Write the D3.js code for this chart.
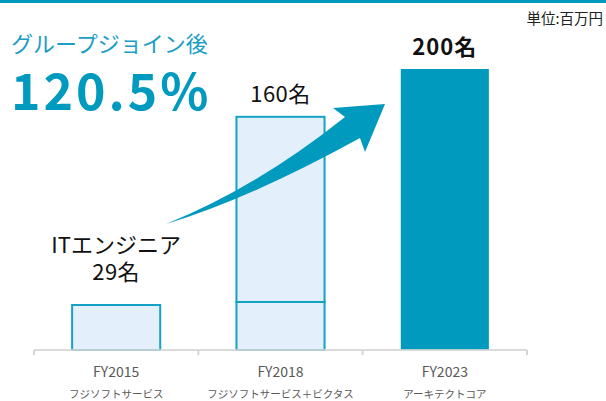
<!DOCTYPE html>
<html>
<head>
<meta charset="utf-8">
<script src="https://cdn.jsdelivr.net/npm/d3@7"></script>
<style>
  body { margin: 0; background: #fff; }
  svg text { font-family: "Noto Sans CJK JP", "Noto Sans", sans-serif; }
</style>
</head>
<body>
<div id="chart"></div>
<script>
// data (sales in 百万円)
const categories = ["FY2015", "FY2018", "FY2023"];
const companies = ["フジソフトサービス", "フジソフトサービス＋ビクタス", "アーキテクトコア"];
const baseSales = [193, 206, 1205];
const addedSales = [0, 794, 0];
const headcount = ["29名", "160名", "200名"];

const teal = "#009abf";
const lightFill = "#e3f0fb";

const width = 606, height = 401;
const margin = { left: 34, right: 79, top: 69, bottom: 51 };

const svg = d3.select("#chart")
  .append("svg")
  .attr("width", width)
  .attr("height", height);

// top rule
svg.append("rect")
  .attr("x", 0).attr("y", 0)
  .attr("width", width).attr("height", 3)
  .attr("fill", teal);

const x = d3.scaleBand()
  .domain(categories)
  .range([margin.left, width - margin.right])
  .paddingInner(0.464)
  .paddingOuter(0.232);

// band edges for the axis ticks
const xEdge = d3.scaleBand()
  .domain(categories)
  .range([margin.left, width - margin.right]);

const y = d3.scaleLinear()
  .domain([0, d3.max(categories, (d, i) => baseSales[i] + addedSales[i])])
  .range([height - margin.bottom, margin.top]);

const rows = categories.map((c, i) => ({
  cat: c, base: baseSales[i], added: addedSales[i], solid: i === categories.length - 1
}));

// bars: lower segment
svg.selectAll(".base")
  .data(rows)
  .enter()
  .append("rect")
  .attr("class", "base")
  .attr("x", d => x(d.cat))
  .attr("width", x.bandwidth())
  .attr("y", d => y(d.base))
  .attr("height", d => y(0) - y(d.base))
  .attr("fill", d => d.solid ? teal : lightFill)
  .attr("stroke", d => d.solid ? "none" : "#14a1c6")
  .attr("stroke-width", 2);

// bars: stacked upper segment
svg.selectAll(".added")
  .data(rows.filter(d => d.added > 0))
  .enter()
  .append("rect")
  .attr("class", "added")
  .attr("x", d => x(d.cat))
  .attr("width", x.bandwidth())
  .attr("y", d => y(d.base + d.added))
  .attr("height", d => y(d.base) - y(d.base + d.added))
  .attr("fill", lightFill)
  .attr("stroke", "#14a1c6")
  .attr("stroke-width", 2);

// axis line + ticks
const axisY = y(0);
const axis = svg.append("g");
axis.append("line")
  .attr("x1", margin.left).attr("x2", width - margin.right)
  .attr("y1", axisY).attr("y2", axisY)
  .attr("stroke", "#d5d5d5").attr("stroke-width", 2).attr("opacity", 0.85);
const edges = categories.map(c => xEdge(c)).concat([width - margin.right]);
axis.selectAll(".tick")
  .data(edges)
  .enter()
  .append("line")
  .attr("x1", d => d).attr("x2", d => d)
  .attr("y1", axisY).attr("y2", axisY + 5)
  .attr("stroke", "#d5d5d5").attr("stroke-width", 2);

// category labels
const cx = c => x(c) + x.bandwidth() / 2;
svg.selectAll(".cat")
  .data(categories)
  .enter()
  .append("text")
  .attr("x", d => cx(d))
  .attr("y", axisY + 27)
  .attr("text-anchor", "middle")
  .attr("font-size", 14)
  .attr("fill", "#595959")
  .text(d => d);
svg.selectAll(".company")
  .data(categories)
  .enter()
  .append("text")
  .attr("x", d => cx(d))
  .attr("y", axisY + 48)
  .attr("text-anchor", "middle")
  .attr("font-size", 10.5)
  .attr("fill", "#595959")
  .text((d, i) => companies[i]);

// headcount labels above bars
const barTop = i => y(baseSales[i] + addedSales[i]);
svg.append("text")
  .attr("x", cx(categories[0])).attr("y", barTop(0) - 52)
  .attr("text-anchor", "middle").attr("font-size", 22).attr("fill", "#111")
  .text("ITエンジニア");
svg.append("text")
  .attr("x", cx(categories[0])).attr("y", barTop(0) - 25)
  .attr("text-anchor", "middle").attr("font-size", 22).attr("fill", "#111")
  .attr("letter-spacing", 0.5)
  .text(headcount[0]);
svg.append("text")
  .attr("x", cx(categories[1])).attr("y", barTop(1) - 15)
  .attr("text-anchor", "middle").attr("font-size", 22).attr("fill", "#111")
  .attr("letter-spacing", 0.5)
  .text(headcount[1]);
svg.append("text")
  .attr("x", cx(categories[2])).attr("y", barTop(2) - 14)
  .attr("text-anchor", "middle").attr("font-size", 22).attr("font-weight", "bold")
  .attr("fill", "#111").attr("letter-spacing", 1)
  .text(headcount[2]);

// curved growth arrow
const arrow = d3.path();
arrow.moveTo(166, 224);
arrow.quadraticCurveTo(256, 188, 345, 117);
arrow.lineTo(333, 108);
arrow.lineTo(385, 104);
arrow.lineTo(365, 152);
arrow.lineTo(360, 138);
arrow.quadraticCurveTo(249, 199, 166, 224);
arrow.closePath();
svg.append("path")
  .attr("d", arrow.toString())
  .attr("fill", teal);

// headline
svg.append("text")
  .attr("x", 11).attr("y", 52)
  .attr("font-size", 22).attr("fill", "#1a9ec2")
  .text("グループジョイン後");
svg.append("text")
  .attr("x", 11).attr("y", 110)
  .attr("font-size", 50).attr("font-weight", "bold").attr("fill", teal)
  .attr("letter-spacing", 3)
  .text("120.5%");

// unit
svg.append("text")
  .attr("x", 603).attr("y", 24)
  .attr("text-anchor", "end")
  .attr("font-size", 14.5).attr("fill", "#222")
  .text("単位:百万円");
</script>
</body>
</html>
